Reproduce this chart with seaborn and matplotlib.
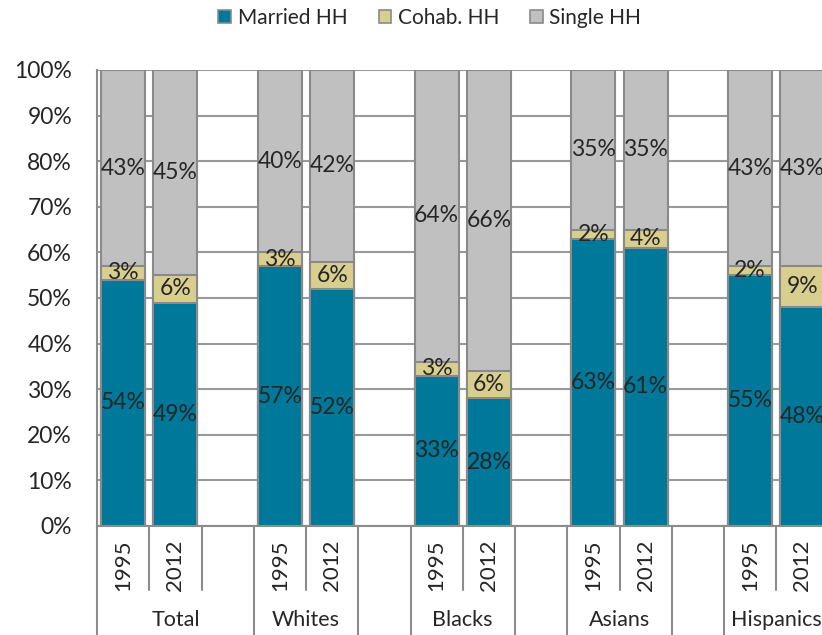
import pandas as pd
import numpy as np
import matplotlib
matplotlib.use('Agg')
import matplotlib.pyplot as plt
import matplotlib.patches as mpatches
import seaborn as sns

# chart data
groups = ['Total', 'Whites', 'Blacks', 'Asians', 'Hispanics']
years = ['1995', '2012']
married = [54, 49, 57, 52, 33, 28, 63, 61, 55, 48]
cohab = [3, 6, 3, 6, 3, 6, 2, 4, 2, 9]
single = [43, 45, 40, 42, 64, 66, 35, 35, 43, 43]
series_names = ['Married HH', 'Cohab. HH', 'Single HH']
colors = ['#00789A', '#D8CE8E', '#C0C0C0']
edge = '#8A8A8A'

# each group takes 3 slots: 1995, 2012, empty
rows = []
for g, grp in enumerate(groups):
    for y, yr in enumerate(years):
        i = g * 2 + y
        rows.append({'group': grp, 'year': yr, 'pos': g * 3 + y,
                     'married': married[i], 'cohab': cohab[i], 'single': single[i]})
df = pd.DataFrame(rows)
df['mc'] = df['married'] + df['cohab']
df['total'] = df['mc'] + df['single']

sns.set_style('white')
plt.rcParams['font.family'] = ['Lato', 'DejaVu Sans']

fig = plt.figure(figsize=(8.22, 6.35), dpi=100)
slot = 52.25
ax = fig.add_axes([97 / 822, 109 / 635, 14 * slot / 822, 456 / 635])

# stacked bars: draw cumulative totals from the top down
for col, c in zip(['total', 'mc', 'married'], colors[::-1]):
    sns.barplot(data=df, x='pos', y=col, native_scale=True, width=0.84,
                color=c, edgecolor=edge, linewidth=1.5, saturation=1, ax=ax, zorder=2)

ax.set_xlim(-0.5, 13.5)
ax.set_ylim(0, 100)
ax.set_yticks(range(0, 101, 10))
ax.set_yticklabels([f'{v}%' for v in range(0, 101, 10)], fontsize=16.5)
ax.set_xticks(df['pos'])
ax.set_xticklabels(df['year'], rotation=90, fontsize=16)
ax.tick_params(axis='x', length=0, pad=10)
ax.tick_params(axis='y', length=7, width=1.5, color='#8C8C8C', pad=11, direction='out')
ax.set_xlabel('')
ax.set_ylabel('')
ax.yaxis.grid(True, color='#999999', linewidth=1.5)
ax.set_axisbelow(True)
for s in ['top', 'right']:
    ax.spines[s].set_visible(False)
for s in ['left', 'bottom']:
    ax.spines[s].set_color('#8C8C8C')
    ax.spines[s].set_linewidth(1.5)

# data labels
for _, r in df.iterrows():
    x = r['pos']
    ax.text(x, r['married'] / 2, f"{r['married']}%", ha='center', va='center', fontsize=16.5, zorder=5)
    ax.text(x, r['married'] + r['cohab'] / 2, f"{r['cohab']}%", ha='center', va='center', fontsize=16.5, zorder=5)
    ax.text(x, r['mc'] + r['single'] / 2, f"{r['single']}%", ha='center', va='center', fontsize=16.5, zorder=5)

# category separators under the axis
trans = ax.get_xaxis_transform()
full_lines = [-0.5, 2.5, 4.5, 5.5, 7.5, 8.5, 10.5, 11.5]
short_lines = [0.5, 1.5, 3.5, 6.5, 9.5, 12.5]
for xl in full_lines:
    ax.plot([xl, xl], [0, -0.24], transform=trans, color='#8C8C8C', lw=1.5, clip_on=False)
for xl in short_lines:
    ax.plot([xl, xl], [0, -0.14], transform=trans, color='#8C8C8C', lw=1.5, clip_on=False)

group_x = [1.0, 3.5, 6.5, 9.5, 12.5]
for gx, grp in zip(group_x, groups):
    ax.text(gx, -0.206, grp, transform=trans, ha='center', va='center', fontsize=15.5)

handles = [mpatches.Patch(facecolor=c, edgecolor=edge, linewidth=1.2) for c in colors]
fig.legend(handles, series_names, loc='center', bbox_to_anchor=(0.523, 1 - 18 / 635),
           ncol=3, frameon=False, fontsize=15, handlelength=0.62, handleheight=0.62,
           handletextpad=0.3, columnspacing=1.5)

fig.savefig('out.png', dpi=100)
